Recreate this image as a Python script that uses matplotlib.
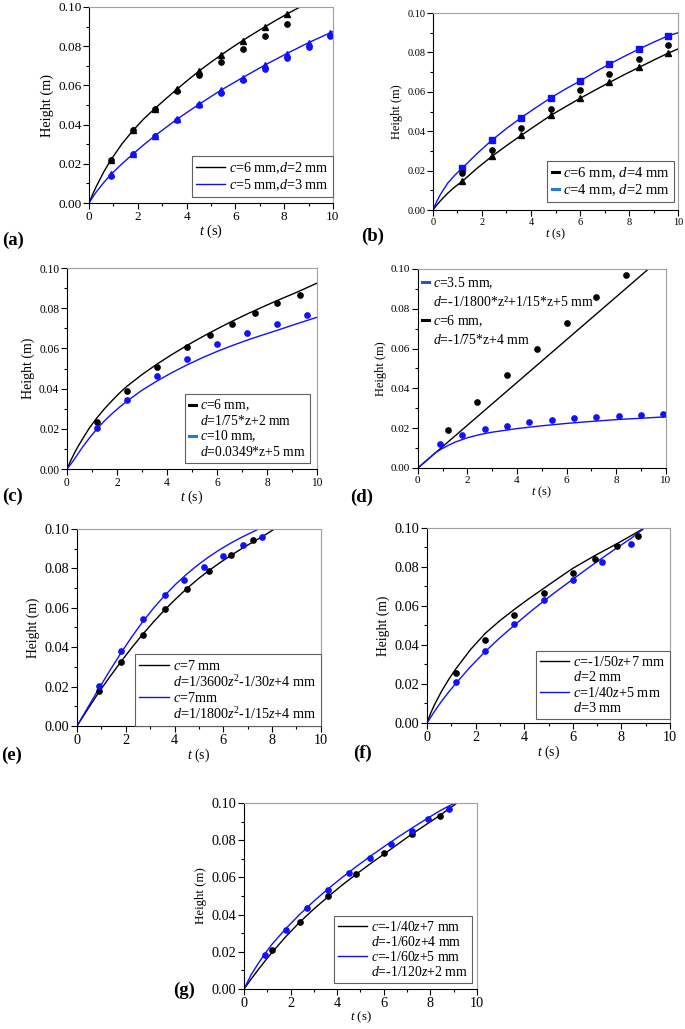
import matplotlib
matplotlib.use("Agg")
import matplotlib.pyplot as plt
from matplotlib.lines import Line2D
from matplotlib.ticker import MultipleLocator

plt.rcParams['font.family'] = 'Liberation Serif'
plt.rcParams['mathtext.fontset'] = 'custom'
plt.rcParams['mathtext.rm'] = 'Liberation Serif'
plt.rcParams['mathtext.it'] = 'Liberation Serif:italic'
plt.rcParams['mathtext.bf'] = 'Liberation Serif:bold'

BLUE = '#1010ff'

# ---- panel (a) ----
a_t_black = [0.9, 1.8, 2.7, 3.6, 4.5, 5.4, 6.3, 7.2, 8.1]
a_black_tri = [0.0221, 0.0372, 0.0482, 0.0580, 0.0672, 0.0754, 0.0829, 0.0898, 0.0963]
a_black_dot = [0.0221, 0.0370, 0.0482, 0.0572, 0.0652, 0.0720, 0.0786, 0.0852, 0.0912]
a_t_blue = [0.9, 1.8, 2.7, 3.6, 4.5, 5.4, 6.3, 7.2, 8.1, 9.0, 9.9]
a_blue_tri = [0.0146, 0.0250, 0.0343, 0.0428, 0.0503, 0.0579, 0.0640, 0.0703, 0.0762, 0.0818, 0.0869]
a_blue_dot = [0.0139, 0.0248, 0.0341, 0.0425, 0.0500, 0.0562, 0.0626, 0.0684, 0.0742, 0.0796, 0.0850]
a_fit_black_t = [0, 0.15, 0.3, 0.6, 0.9, 1.35, 1.8, 2.25, 2.7, 3.15, 3.6, 4.05, 4.5, 4.95,
                 5.4, 5.85, 6.3, 6.75, 7.2, 7.65, 8.1, 8.65]
a_fit_black_h = [0, 0.0045, 0.0085, 0.0158, 0.0221, 0.0302, 0.0370, 0.0430, 0.0482, 0.0532,
                 0.0580, 0.0627, 0.0672, 0.0714, 0.0754, 0.0792, 0.0829, 0.0864, 0.0898,
                 0.0931, 0.0963, 0.1000]
a_fit_blue_t = [0, 0.15, 0.3, 0.6, 0.9, 1.35, 1.8, 2.25, 2.7, 3.6, 4.5, 5.4, 6.3, 7.2, 8.1,
                9.0, 9.9, 10.0]
a_fit_blue_h = [0, 0.0030, 0.0057, 0.0104, 0.0146, 0.0200, 0.0250, 0.0298, 0.0343, 0.0427,
                0.0503, 0.0575, 0.0640, 0.0703, 0.0762, 0.0818, 0.0869, 0.0874]

# ---- panel (b) ----
b_t = [1.2, 2.4, 3.6, 4.8, 6.0, 7.2, 8.4, 9.6]
b_blue = [0.0213, 0.0354, 0.0469, 0.0569, 0.0655, 0.0741, 0.0817, 0.0885]
b_black_dot = [0.0186, 0.0305, 0.0416, 0.0514, 0.0607, 0.0690, 0.0766, 0.0838]
b_black_tri = [0.0146, 0.0272, 0.0379, 0.0480, 0.0567, 0.0648, 0.0724, 0.0797]
b_fit_t = [0, 0.15, 0.3, 0.6, 0.9, 1.2, 1.8, 2.4, 3.0, 3.6, 4.2, 4.8, 5.4, 6.0, 6.6, 7.2,
           7.8, 8.4, 9.0, 9.6, 10.0]
b_fit_black = [0, 0.0024, 0.0046, 0.0085, 0.0118, 0.0146, 0.0212, 0.0272, 0.0327, 0.0379,
               0.0430, 0.0480, 0.0524, 0.0567, 0.0608, 0.0648, 0.0687, 0.0724, 0.0761,
               0.0797, 0.0818]
b_fit_blue = [0, 0.0042, 0.0078, 0.0136, 0.0178, 0.0213, 0.0287, 0.0354, 0.0414, 0.0469,
              0.0520, 0.0569, 0.0614, 0.0655, 0.0700, 0.0741, 0.0780, 0.0817, 0.0852,
              0.0885, 0.0900]

# ---- panel (c) ----
c_t_black = [1.2, 2.4, 3.6, 4.8, 5.7, 6.6, 7.5, 8.4, 9.3]
c_black = [0.0236, 0.0390, 0.0510, 0.0605, 0.0665, 0.0720, 0.0775, 0.0825, 0.0868]
c_t_blue = [1.2, 2.4, 3.6, 4.8, 6.0, 7.2, 8.4, 9.6]
c_blue = [0.0205, 0.0345, 0.0463, 0.0545, 0.0620, 0.0678, 0.0720, 0.0765]
c_fit_t = [0, 0.15, 0.3, 0.45, 0.6, 0.9, 1.2, 1.5, 1.8, 2.1, 2.4, 3.0, 3.6, 4.2, 4.8, 5.4,
           6.0, 6.6, 7.2, 7.8, 8.4, 9.2, 10.0]
c_fit_black = [0, 0.0042, 0.0080, 0.0114, 0.0145, 0.0205, 0.0255, 0.0300, 0.0340, 0.0378,
               0.0412, 0.0470, 0.0522, 0.0570, 0.0615, 0.0657, 0.0697, 0.0735, 0.0771,
               0.0805, 0.0838, 0.0880, 0.0925]
c_fit_blue = [0, 0.0024, 0.0050, 0.0078, 0.0105, 0.0155, 0.0200, 0.0240, 0.0275, 0.0308,
              0.0338, 0.0392, 0.0438, 0.0480, 0.0518, 0.0553, 0.0585, 0.0614, 0.0641,
              0.0666, 0.0690, 0.0723, 0.0755]

# ---- panel (d) ----
d_t_black = [1.2, 2.4, 3.6, 4.8, 6.0, 7.2, 8.4]
d_black = [0.0189, 0.0331, 0.0468, 0.0599, 0.0731, 0.0858, 0.0970]
d_t_blue = [0.9, 1.8, 2.7, 3.6, 4.5, 5.4, 6.3, 7.2, 8.1, 9.0, 9.9]
d_blue = [0.0120, 0.0167, 0.0196, 0.0212, 0.0232, 0.0242, 0.0250, 0.0256, 0.0261, 0.0266, 0.0269]
d_fit_black_t = [0, 2, 4, 6, 8, 9.3]
d_fit_black_h = [0, 0.0215, 0.0430, 0.0645, 0.0860, 0.1000]
d_fit_blue_t = [0, 0.15, 0.3, 0.45, 0.6, 0.75, 0.9, 1.05, 1.2, 1.5, 2.0, 2.5, 3.0, 4.0, 5.0,
                6.0, 7.0, 8.0, 9.0, 10.0]
d_fit_blue_h = [0, 0.0016, 0.0032, 0.0048, 0.0065, 0.0080, 0.0092, 0.0102, 0.0112, 0.0130,
                0.0152, 0.0168, 0.0180, 0.0198, 0.0212, 0.0224, 0.0234, 0.0243, 0.0250, 0.0257]

# ---- panel (e) ----
e_t_black = [0.9, 1.8, 2.7, 3.6, 4.5, 5.4, 6.3, 7.2]
e_black = [0.0180, 0.0324, 0.0464, 0.0592, 0.0693, 0.0785, 0.0866, 0.0942]
e_t_blue = [0.9, 1.8, 2.7, 3.6, 4.4, 5.2, 6.0, 6.8, 7.6]
e_blue = [0.0203, 0.0381, 0.0544, 0.0664, 0.0742, 0.0807, 0.0864, 0.0917, 0.0959]
e_fit_black_t = [0, 0.45, 0.9, 1.35, 1.8, 2.25, 2.7, 3.15, 3.6, 4.05, 4.5, 4.95, 5.4, 5.85,
                 6.3, 6.75, 7.2, 7.65, 8.1]
e_fit_black_h = [0, 0.0087, 0.0172, 0.0250, 0.0326, 0.0398, 0.0466, 0.0530, 0.0590, 0.0645,
                 0.0697, 0.0745, 0.0788, 0.0828, 0.0865, 0.0900, 0.0933, 0.0965, 0.1000]
e_fit_blue_t = [0, 0.45, 0.9, 1.35, 1.8, 2.25, 2.7, 3.15, 3.6, 4.05, 4.5, 4.95, 5.4, 5.85,
                6.3, 6.75, 7.2, 7.45]
e_fit_blue_h = [0, 0.0095, 0.0190, 0.0282, 0.0370, 0.0453, 0.0530, 0.0600, 0.0663, 0.0720,
                0.0771, 0.0817, 0.0858, 0.0895, 0.0928, 0.0958, 0.0985, 0.1000]

# ---- panel (f) ----
f_t_black = [1.2, 2.4, 3.6, 4.8, 6.0, 6.9, 7.8, 8.7]
f_black = [0.0256, 0.0426, 0.0552, 0.0665, 0.0771, 0.0843, 0.0906, 0.0961]
f_t_blue = [1.2, 2.4, 3.6, 4.8, 6.0, 7.2, 8.4]
f_blue = [0.0210, 0.0368, 0.0508, 0.0631, 0.0733, 0.0824, 0.0916]
f_fit_black_t = [0, 0.15, 0.3, 0.6, 0.9, 1.2, 1.8, 2.4, 3.0, 3.6, 4.2, 4.8, 5.4, 6.0, 6.9,
                 7.8, 8.7, 8.95]
f_fit_black_h = [0, 0.0050, 0.0092, 0.0163, 0.0225, 0.0280, 0.0378, 0.0460, 0.0525, 0.0583,
                 0.0638, 0.0690, 0.0742, 0.0793, 0.0858, 0.0918, 0.0982, 0.1000]
f_fit_blue_t = [0, 0.3, 0.6, 0.9, 1.2, 1.8, 2.4, 3.0, 3.6, 4.2, 4.8, 5.4, 6.0, 6.6, 7.2,
                7.8, 8.4, 8.95]
f_fit_blue_h = [0, 0.0058, 0.0112, 0.0160, 0.0205, 0.0290, 0.0367, 0.0437, 0.0502, 0.0565,
                0.0625, 0.0682, 0.0737, 0.0792, 0.0845, 0.0897, 0.0947, 0.1000]

# ---- panel (g) ----
g_t_black = [1.2, 2.4, 3.6, 4.8, 6.0, 7.2, 8.4]
g_black = [0.0211, 0.0361, 0.0500, 0.0620, 0.0729, 0.0834, 0.0929]
g_t_blue = [0.9, 1.8, 2.7, 3.6, 4.5, 5.4, 6.3, 7.2, 7.9, 8.8]
g_blue = [0.0184, 0.0318, 0.0434, 0.0532, 0.0621, 0.0705, 0.0779, 0.0850, 0.0911, 0.0968]
g_fit_black_t = [0, 0.3, 0.6, 0.9, 1.2, 1.8, 2.4, 3.0, 3.6, 4.2, 4.8, 5.4, 6.0, 6.6, 7.2,
                 7.8, 8.4, 9.15]
g_fit_black_h = [0, 0.0052, 0.0102, 0.0150, 0.0196, 0.0282, 0.0360, 0.0430, 0.0495, 0.0557,
                 0.0615, 0.0671, 0.0724, 0.0778, 0.0832, 0.0882, 0.0932, 0.1000]
g_fit_blue_t = [0, 0.3, 0.6, 0.9, 1.2, 1.8, 2.4, 3.0, 3.6, 4.2, 4.8, 5.4, 6.0, 6.6, 7.2,
                7.8, 8.4, 9.05]
g_fit_blue_h = [0, 0.0075, 0.0135, 0.0190, 0.0240, 0.0325, 0.0402, 0.0472, 0.0537, 0.0598,
                0.0656, 0.0711, 0.0764, 0.0815, 0.0864, 0.0911, 0.0957, 0.1000]


def style_axes(ax, tick_fs, label_fs):
    ax.set_xlim(0, 10)
    ax.set_ylim(0, 0.10)
    ax.xaxis.set_major_locator(MultipleLocator(2))
    ax.xaxis.set_minor_locator(MultipleLocator(1))
    ax.yaxis.set_major_locator(MultipleLocator(0.02))
    ax.yaxis.set_minor_locator(MultipleLocator(0.01))
    ax.yaxis.set_major_formatter(plt.FuncFormatter(lambda v, p: f"{v:.2f}"))
    ax.xaxis.set_major_formatter(plt.FuncFormatter(lambda v, p: f"{v:.0f}"))
    ax.tick_params(which='major', direction='out', length=4, width=0.8, labelsize=tick_fs, pad=1.5)
    ax.tick_params(which='minor', direction='out', length=2, width=0.8)
    ax.tick_params(top=False, right=False)
    for s in ['top', 'right']:
        ax.spines[s].set_color('#a0a0a0')
        ax.spines[s].set_linewidth(0.8)
    for s in ['left', 'bottom']:
        ax.spines[s].set_linewidth(0.8)
    ax.set_ylabel('Height (m)', fontsize=label_fs, labelpad=3)
    ax.set_xlabel('$t$ (s)', fontsize=label_fs, labelpad=0)


def legend(ax, handles, labels, fs, spacing=0.08, **kw):
    leg = ax.legend(handles, labels, fontsize=fs, fancybox=False, edgecolor='#606060',
                    framealpha=1, borderpad=0.3, labelspacing=spacing, handletextpad=0.3,
                    borderaxespad=0.0, **kw)
    leg.get_frame().set_linewidth(0.8)
    return leg


fig = plt.figure(figsize=(6.85, 10.29), dpi=100)

ms = 3.8
blank = Line2D([], [], color='none')

# (a)
ax = fig.add_axes([0.130, 0.8027, 0.356, 0.1905])
ax.plot(a_fit_black_t, a_fit_black_h, color='black', lw=1)
ax.plot(a_fit_blue_t, a_fit_blue_h, color=BLUE, lw=1)
ax.plot(a_t_black, a_black_tri, '^', color='black', ms=ms)
ax.plot(a_t_black, a_black_dot, 'o', color='black', ms=ms)
ax.plot(a_t_blue, a_blue_tri, '^', color=BLUE, ms=ms)
ax.plot(a_t_blue, a_blue_dot, 'o', color=BLUE, ms=ms)
style_axes(ax, 9.5, 10.3)
legend(ax, [Line2D([], [], color='black', lw=1), Line2D([], [], color=BLUE, lw=1)],
       ['$c$=6 mm,$d$=2 mm', '$c$=5 mm,$d$=3 mm'], 10.2, spacing=0.12, loc='lower right',
       bbox_to_anchor=(1.0, 0.03), handlelength=2.0)

# (b)
ax = fig.add_axes([0.632, 0.7959, 0.358, 0.1914])
ax.plot(b_fit_t, b_fit_black, color='black', lw=1)
ax.plot(b_fit_t, b_fit_blue, color=BLUE, lw=1)
ax.plot(b_t, b_blue, 's', color=BLUE, ms=ms)
ax.plot(b_t, b_blue, 'o', color=BLUE, ms=ms)
ax.plot(b_t, b_black_dot, 'o', color='black', ms=ms)
ax.plot(b_t, b_black_tri, '^', color='black', ms=ms)
style_axes(ax, 7.5, 9)
legend(ax, [Line2D([], [], color='black', lw=2.2), Line2D([], [], color='#1f7fd6', lw=2.2)],
       ['$c$=6 mm, $d$=4 mm', '$c$=4 mm, $d$=2 mm'], 10.5, spacing=0.05, loc='lower right',
       bbox_to_anchor=(0.985, 0.04), handlelength=0.5)

# (c)
ax = fig.add_axes([0.0978, 0.5442, 0.365, 0.1953])
ax.plot(c_fit_t, c_fit_black, color='black', lw=1)
ax.plot(c_fit_t, c_fit_blue, color=BLUE, lw=1)
ax.plot(c_t_black, c_black, 'o', color='black', ms=ms)
ax.plot(c_t_blue, c_blue, 'o', color=BLUE, ms=ms)
style_axes(ax, 8.3, 10)
legend(ax, [Line2D([], [], color='black', lw=2.2), blank,
            Line2D([], [], color='#1f7fd6', lw=2.2), blank],
       ['$c$=6 mm,', '$d$=1/75*z+2 mm', '$c$=10 mm,', '$d$=0.0349*z+5 mm'], 9.8, spacing=0.05,
       loc='lower right', bbox_to_anchor=(0.97, 0.03), handlelength=0.5)

# (d)
ax = fig.add_axes([0.610, 0.5452, 0.362, 0.1934])
ax.plot(d_fit_black_t, d_fit_black_h, color='black', lw=1)
ax.plot(d_fit_blue_t, d_fit_blue_h, color=BLUE, lw=1)
ax.plot(d_t_black, d_black, 'o', color='black', ms=ms)
ax.plot(d_t_blue, d_blue, 'o', color=BLUE, ms=ms)
style_axes(ax, 8, 9)
leg = legend(ax, [Line2D([], [], color='#2a56b8', lw=2.2), blank,
                  Line2D([], [], color='black', lw=2.2), blank],
             ['$c$=3.5 mm,', '$d$=-1/1800*z\u00b2+1/15*z+5 mm', '$c$=6 mm,', '$d$=-1/75*z+4 mm'],
             9.9, spacing=0.3, loc='upper left', bbox_to_anchor=(0.0, 0.99), handlelength=0.5)
leg.get_frame().set_visible(False)

# (e)
ax = fig.add_axes([0.1124, 0.2945, 0.356, 0.1914])
ax.plot(e_fit_black_t, e_fit_black_h, color='black', lw=1)
ax.plot(e_fit_blue_t, e_fit_blue_h, color=BLUE, lw=1)
ax.plot(e_t_black, e_black, 'o', color='black', ms=ms)
ax.plot(e_t_blue, e_blue, 'o', color=BLUE, ms=ms)
style_axes(ax, 10.3, 9.8)
legend(ax, [Line2D([], [], color='black', lw=1), blank, Line2D([], [], color=BLUE, lw=1), blank],
       ['$c$=7 mm', '$d$=1/3600$z^2$-1/30$z$+4 mm', '$c$=7mm', '$d$=1/1800$z^2$-1/15$z$+4 mm'],
       10.2, spacing=0.08, loc='lower right', bbox_to_anchor=(1.0, 0.0), handlelength=2.1)

# (f)
ax = fig.add_axes([0.6234, 0.2974, 0.3547, 0.1895])
ax.plot(f_fit_black_t, f_fit_black_h, color='black', lw=1)
ax.plot(f_fit_blue_t, f_fit_blue_h, color=BLUE, lw=1)
ax.plot(f_t_black, f_black, 'o', color='black', ms=ms)
ax.plot(f_t_blue, f_blue, 'o', color=BLUE, ms=ms)
style_axes(ax, 10.3, 9.8)
legend(ax, [Line2D([], [], color='black', lw=1), blank, Line2D([], [], color=BLUE, lw=1), blank],
       ['$c$=-1/50$z$+7 mm', '$d$=2 mm', '$c$=1/40$z$+5 mm', '$d$=3 mm'],
       10.3, spacing=0.08, loc='lower right', bbox_to_anchor=(1.0, 0.02), handlelength=2.0)

# (g)
ax = fig.add_axes([0.3562, 0.0389, 0.340, 0.1808])
ax.plot(g_fit_black_t, g_fit_black_h, color='black', lw=1)
ax.plot(g_fit_blue_t, g_fit_blue_h, color=BLUE, lw=1)
ax.plot(g_t_black, g_black, 'o', color='black', ms=ms)
ax.plot(g_t_blue, g_blue, 'o', color=BLUE, ms=ms)
style_axes(ax, 10.3, 9.3)
legend(ax, [Line2D([], [], color='black', lw=1), blank, Line2D([], [], color=BLUE, lw=1), blank],
       ['$c$=-1/40$z$+7 mm', '$d$=-1/60$z$+4 mm', '$c$=-1/60$z$+5 mm', '$d$=-1/120$z$+2 mm'],
       9.9, spacing=0.08, loc='lower right', bbox_to_anchor=(0.98, 0.03), handlelength=2.1)

# panel letters
letters = [('(a)', 2, 240), ('(b)', 361, 236), ('(c)', 2, 496), ('(d)', 350, 497),
           ('(e)', 1, 755), ('(f)', 353, 753), ('(g)', 173, 990)]
for txt, px, py in letters:
    fig.text(px / 685, 1 - py / 1029, txt, fontsize=13.5, fontweight='bold',
             ha='left', va='center')

fig.savefig('out.png', dpi=100)
